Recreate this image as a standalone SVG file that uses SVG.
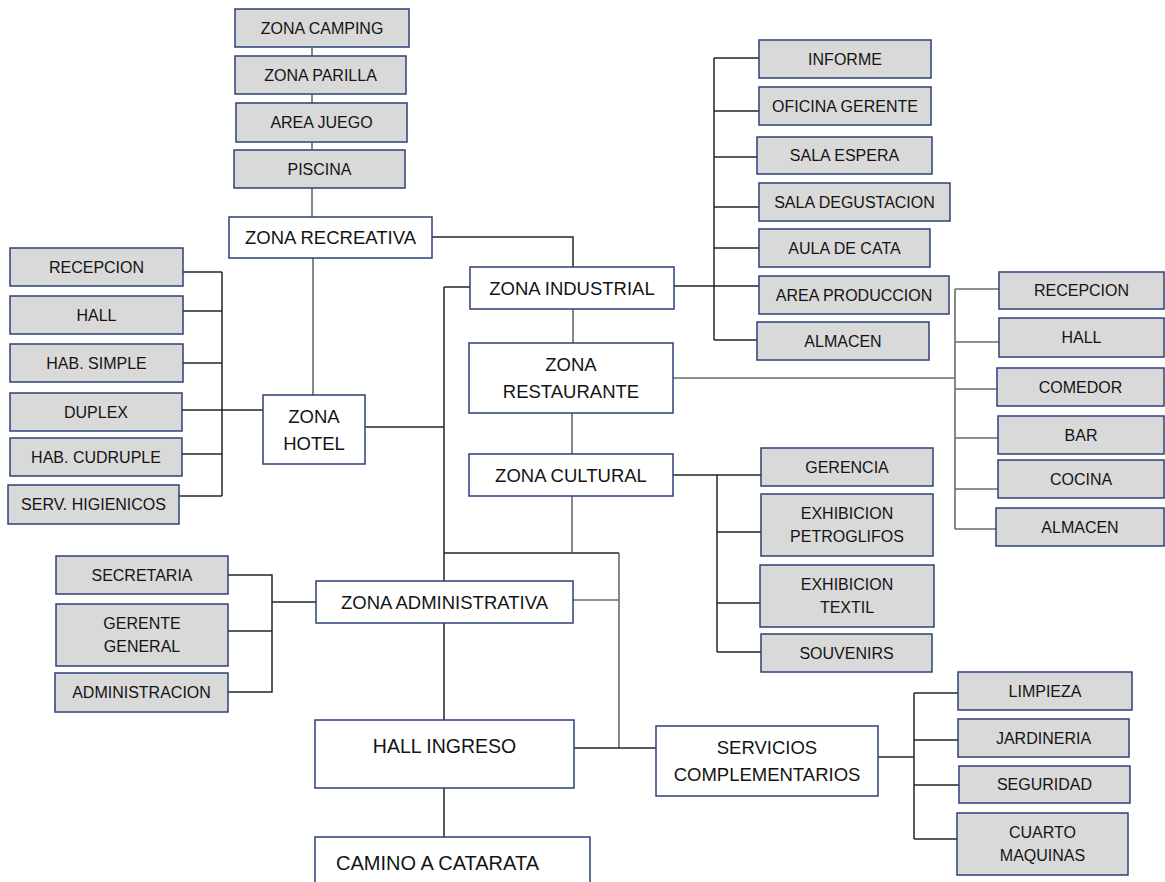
<svg xmlns="http://www.w3.org/2000/svg" width="1165" height="882" viewBox="0 0 1165 882">
<style>
.g rect{fill:#d9d9d9;stroke:#2e3f7a;stroke-width:1.5}
.w rect{fill:#ffffff;stroke:#2e3f7a;stroke-width:1.5}
text{font-family:"Liberation Sans",Arial,sans-serif;font-size:16px;text-anchor:middle;fill:#141414}
.w text{font-size:18.5px}
.k{fill:none;stroke:#262626;stroke-width:1.5}
.m{fill:none;stroke:#6b6b6b;stroke-width:1.6}
</style>
<rect width="1165" height="882" fill="#ffffff"/>
<g id="connectors">
<path class="m" d="M312 48V56M312 94V103M312 142V150M312 188V217M313 258V395"/>
<path class="k" d="M432 237H573V267"/>
<path class="k" d="M222 272V496M183 272H222M183 311H222M183 363H222M182 410H263M182 454H222M179 496H222M365 427H444"/>
<path class="k" d="M444 287H470M444 287V581M444 623V720M444 788V837M444 553H619"/>
<path class="m" d="M573 309V343M572 413V454M572 496V553M619 553V748M573 600H619"/>
<path class="k" d="M574 748H656"/>
<path class="k" d="M714 58V340M714 58H759M714 111H759M714 157H757M714 207H759M714 248H759M674 286H759M714 340H757"/>
<path class="m" d="M673 378H955M955 289V529M955 289H999M955 342H999M955 389H997M955 438H998M955 489H998M955 529H996"/>
<path class="k" d="M673 475H761M717 475V652M717 532H761M717 603H760M717 652H761"/>
<path class="k" d="M228 575H272V692H228M228 631H272M272 602H316"/>
<path class="k" d="M878 757H914M914 693V839M914 693H958M914 740H958M914 785H959M914 839H957"/>
</g>
<g id="zona-camping" class="g"><rect x="235" y="9" width="174" height="38"/><text x="322" y="34">ZONA CAMPING</text></g>
<g id="zona-parilla" class="g"><rect x="235" y="56" width="171" height="38"/><text x="320.5" y="81">ZONA PARILLA</text></g>
<g id="area-juego" class="g"><rect x="236" y="103" width="171" height="39"/><text x="321.5" y="128">AREA JUEGO</text></g>
<g id="piscina" class="g"><rect x="234" y="150" width="171" height="38"/><text x="319.5" y="175">PISCINA</text></g>
<g id="zona-recreativa" class="w"><rect x="229" y="217" width="203" height="41"/><text x="330.5" y="244">ZONA RECREATIVA</text></g>
<g id="h-recepcion" class="g"><rect x="10" y="248" width="173" height="38"/><text x="96.5" y="273">RECEPCION</text></g>
<g id="h-hall" class="g"><rect x="10" y="296" width="173" height="38"/><text x="96.5" y="321">HALL</text></g>
<g id="h-simple" class="g"><rect x="10" y="344" width="173" height="38"/><text x="96.5" y="369">HAB. SIMPLE</text></g>
<g id="h-duplex" class="g"><rect x="10" y="393" width="172" height="38"/><text x="96" y="418">DUPLEX</text></g>
<g id="h-cudruple" class="g"><rect x="10" y="438" width="172" height="38"/><text x="96" y="463">HAB. CUDRUPLE</text></g>
<g id="h-serv" class="g"><rect x="8" y="485" width="171" height="39"/><text x="93.5" y="510">SERV. HIGIENICOS</text></g>
<g id="zona-hotel" class="w"><rect x="263" y="395" width="102" height="69"/><text x="314" y="422.6">ZONA</text><text x="314" y="449.6">HOTEL</text></g>
<g id="zona-industrial" class="w"><rect x="470" y="267" width="204" height="42"/><text x="572" y="294.6">ZONA INDUSTRIAL</text></g>
<g id="i-informe" class="g"><rect x="759" y="40" width="172" height="38"/><text x="845" y="65">INFORME</text></g>
<g id="i-oficina" class="g"><rect x="759" y="87" width="172" height="38"/><text x="845" y="112">OFICINA GERENTE</text></g>
<g id="i-sala-espera" class="g"><rect x="757" y="137" width="175" height="37"/><text x="844.5" y="161">SALA ESPERA</text></g>
<g id="i-degustacion" class="g"><rect x="759" y="183" width="191" height="38"/><text x="854.5" y="208">SALA DEGUSTACION</text></g>
<g id="i-aula" class="g"><rect x="759" y="229" width="171" height="38"/><text x="844.5" y="254">AULA DE CATA</text></g>
<g id="i-produccion" class="g"><rect x="759" y="276" width="190" height="38"/><text x="854" y="301">AREA PRODUCCION</text></g>
<g id="i-almacen" class="g"><rect x="757" y="322" width="172" height="38"/><text x="843" y="347">ALMACEN</text></g>
<g id="zona-restaurante" class="w"><rect x="469" y="343" width="204" height="70"/><text x="571" y="370.6">ZONA</text><text x="571" y="397.6">RESTAURANTE</text></g>
<g id="r-recepcion" class="g"><rect x="999" y="272" width="165" height="37"/><text x="1081.5" y="296">RECEPCION</text></g>
<g id="r-hall" class="g"><rect x="999" y="318" width="165" height="39"/><text x="1081.5" y="343">HALL</text></g>
<g id="r-comedor" class="g"><rect x="997" y="368" width="167" height="38"/><text x="1080.5" y="393">COMEDOR</text></g>
<g id="r-bar" class="g"><rect x="998" y="416" width="166" height="38"/><text x="1081" y="441">BAR</text></g>
<g id="r-cocina" class="g"><rect x="998" y="460" width="166" height="38"/><text x="1081" y="485">COCINA</text></g>
<g id="r-almacen" class="g"><rect x="996" y="508" width="168" height="38"/><text x="1080" y="533">ALMACEN</text></g>
<g id="zona-cultural" class="w"><rect x="469" y="454" width="204" height="42"/><text x="571" y="481.6">ZONA CULTURAL</text></g>
<g id="c-gerencia" class="g"><rect x="761" y="448" width="172" height="38"/><text x="847" y="473">GERENCIA</text></g>
<g id="c-petroglifos" class="g"><rect x="761" y="494" width="172" height="62"/><text x="847" y="519.2">EXHIBICION</text><text x="847" y="542.2">PETROGLIFOS</text></g>
<g id="c-textil" class="g"><rect x="760" y="565" width="174" height="62"/><text x="847" y="590.2">EXHIBICION</text><text x="847" y="613.2">TEXTIL</text></g>
<g id="c-souvenirs" class="g"><rect x="761" y="634" width="171" height="38"/><text x="846.5" y="659">SOUVENIRS</text></g>
<g id="a-secretaria" class="g"><rect x="56" y="556" width="172" height="38"/><text x="142" y="581">SECRETARIA</text></g>
<g id="a-gerente" class="g"><rect x="56" y="604" width="172" height="62"/><text x="142" y="629.2">GERENTE</text><text x="142" y="652.2">GENERAL</text></g>
<g id="a-administracion" class="g"><rect x="55" y="673" width="173" height="39"/><text x="141.5" y="698">ADMINISTRACION</text></g>
<g id="zona-administrativa" class="w"><rect x="316" y="581" width="257" height="42"/><text x="444.5" y="608.6">ZONA ADMINISTRATIVA</text></g>
<g id="hall-ingreso" class="w"><rect x="315" y="720" width="259" height="68"/><text x="444.5" y="753" style="font-size:19.5px">HALL INGRESO</text></g>
<g id="camino-catarata" class="w"><rect x="315" y="837" width="275" height="60"/><text x="336" y="870" style="font-size:20px;text-anchor:start">CAMINO A CATARATA</text></g>
<g id="servicios" class="w"><rect x="656" y="726" width="222" height="70"/><text x="767" y="754">SERVICIOS</text><text x="767" y="781">COMPLEMENTARIOS</text></g>
<g id="s-limpieza" class="g"><rect x="958" y="672" width="174" height="38"/><text x="1045" y="697">LIMPIEZA</text></g>
<g id="s-jardineria" class="g"><rect x="958" y="719" width="171" height="38"/><text x="1043.5" y="744">JARDINERIA</text></g>
<g id="s-seguridad" class="g"><rect x="959" y="766" width="171" height="37"/><text x="1044.5" y="790">SEGURIDAD</text></g>
<g id="s-cuarto" class="g"><rect x="957" y="813" width="171" height="62"/><text x="1042.5" y="838.2">CUARTO</text><text x="1042.5" y="861.2">MAQUINAS</text></g>
</svg>
